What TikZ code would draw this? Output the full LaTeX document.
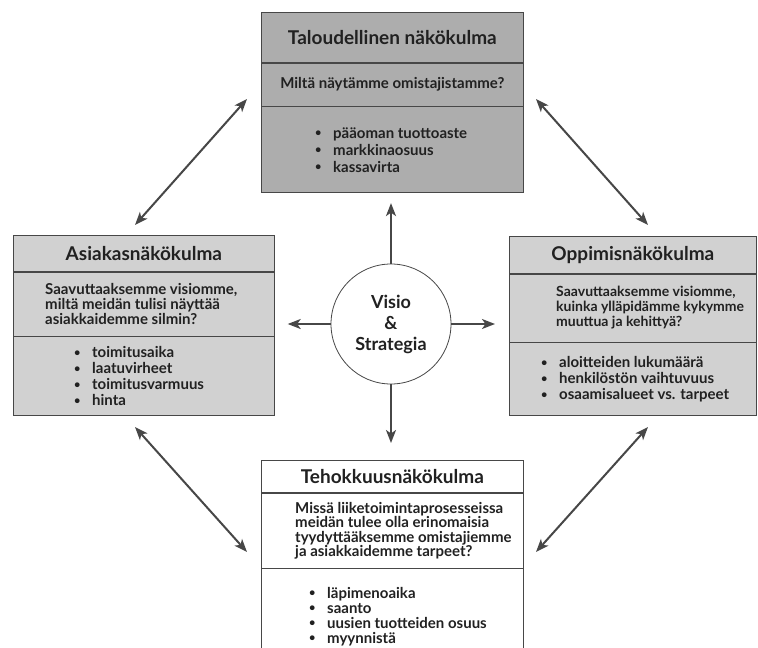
\documentclass[tikz,border=0pt]{standalone}
\usepackage{fontspec}
\setmainfont{Lato}
\usetikzlibrary{positioning,arrows.meta}

\definecolor{viiva}{gray}{0.28}
\definecolor{tumma}{gray}{0.68}
\definecolor{vaalea}{gray}{0.82}
\definecolor{teksti}{gray}{0.13}
\newcommand{\kohta}[1]{\makebox[18pt][l]{\raisebox{0.2ex}{\fontsize{11}{11}\selectfont\textbullet}}#1}

\tikzset{
  osa/.style={draw=viiva, line width=0.7pt, inner sep=0pt, text=teksti, font=\fontsize{15}{15}\selectfont\bfseries},
  otsikko/.style={osa, font=\fontsize{19}{21}\selectfont\bfseries},
  sisalto/.style={inner sep=0pt, align=left, text=teksti, font=\fontsize{15}{15}\selectfont\bfseries},
  keskus/.style={circle, draw=viiva, line width=0.8pt, fill=white, minimum size=120pt, inner sep=0pt, align=center, text=teksti, font=\fontsize{18}{21}\selectfont\bfseries},
  nuoli/.style={->, >={Stealth[length=13pt,width=10pt,inset=3.5pt]}, line width=2pt, draw=viiva},
  kaksinuoli/.style={nuoli, <->}
}

\begin{document}
\begin{tikzpicture}[x=1pt, y=-1pt]
\useasboundingbox (0,0) rectangle (758,648);
\clip (0,0) rectangle (758,648);

% Taloudellinen
\node[otsikko, fill=tumma, anchor=north west, minimum width=262pt, minimum height=50pt] (tot) at (261,12) {Taloudellinen näkökulma};
\node[osa, fill=tumma, below=0pt of tot, minimum width=262pt, minimum height=43pt] (tkys) {Miltä näytämme omistajistamme?};
\node[osa, fill=tumma, below=0pt of tkys, minimum width=262pt, minimum height=86pt] (tmit) {};
\node[sisalto, anchor=west, font=\fontsize{15}{17}\selectfont\bfseries] (tlista) at ([xshift=54pt]tmit.west) {\kohta{pääoman tuottoaste}\\ \kohta{markkinaosuus}\\ \kohta{kassavirta}};

% Asiakas
\node[otsikko, fill=vaalea, anchor=north west, minimum width=261pt, minimum height=36pt] (aot) at (13,235) {Asiakasnäkökulma};
\node[osa, fill=vaalea, below=0pt of aot, minimum width=261pt, minimum height=64pt] (akys) {};
\node[sisalto, anchor=west] (akysteksti) at ([xshift=32pt]akys.west) {Saavuttaaksemme visiomme,\\ miltä meidän tulisi näyttää\\ asiakkaidemme silmin?};
\node[osa, fill=vaalea, below=0pt of akys, minimum width=261pt, minimum height=79pt] (amit) {};
\node[sisalto, anchor=west, font=\fontsize{15}{16}\selectfont\bfseries] (alista) at ([xshift=61pt]amit.west) {\kohta{toimitusaika}\\ \kohta{laatuvirheet}\\ \kohta{toimitusvarmuus}\\ \kohta{hinta}};

% Oppiminen
\node[otsikko, fill=vaalea, anchor=north west, minimum width=247pt, minimum height=37pt] (oot) at (509,236) {Oppimisnäkökulma};
\node[osa, fill=vaalea, below=0pt of oot, minimum width=247pt, minimum height=68pt] (okys) {};
\node[sisalto, anchor=west, font=\fontsize{14}{15}\selectfont\bfseries] (okysteksti) at ([xshift=47pt]okys.west) {Saavuttaaksemme visiomme,\\ kuinka ylläpidämme kykymme\\ muuttua ja kehittyä?};
\node[osa, fill=vaalea, below=0pt of okys, minimum width=247pt, minimum height=73pt] (omit) {};
\node[sisalto, anchor=west, font=\fontsize{15}{16}\selectfont\bfseries] (olista) at ([xshift=32pt]omit.west) {\kohta{aloitteiden lukumäärä}\\ \kohta{henkilöstön vaihtuvuus}\\ \kohta{osaamisalueet vs. tarpeet}};

% Tehokkuus
\node[otsikko, fill=white, anchor=north west, minimum width=262pt, minimum height=32pt] (hot) at (261,460) {Tehokkuusnäkökulma};
\node[osa, fill=white, below=0pt of hot, minimum width=262pt, minimum height=75pt] (hkys) {};
\node[sisalto, anchor=west, font=\fontsize{15}{14.5}\selectfont\bfseries] (hkysteksti) at ([xshift=34pt]hkys.west) {Missä liiketoimintaprosesseissa\\ meidän tulee olla erinomaisia\\ tyydyttääksemme omistajiemme\\ ja asiakkaidemme tarpeet?};
\node[osa, fill=white, below=0pt of hkys, minimum width=262pt, minimum height=95pt] (hmit) {};
\node[sisalto, anchor=west] (hlista) at ([xshift=48pt]hmit.west) {\kohta{läpimenoaika}\\ \kohta{saanto}\\ \kohta{uusien tuotteiden osuus}\\ \kohta{}myynnistä};

% Visio
\node[keskus] (visio) at (391,324) {Visio\\ \&\\ Strategia};
\draw[nuoli, shorten >=10pt] (visio.north) -- (visio.north |- tmit.south);
\draw[nuoli, shorten >=13pt] (visio.west) -- (visio.west -| akys.east);
\draw[nuoli, shorten >=14pt] (visio.east) -- (visio.east -| okys.west);
\draw[nuoli, shorten >=17pt] (visio.south) -- (visio.south |- hot.north);

% vinot nuolet
\coordinate (k1) at (135,225);
\coordinate (k2) at (247,99);
\coordinate (k3) at (536,99);
\coordinate (k4) at (648,225);
\coordinate (k5) at (135,427);
\coordinate (k6) at (247,552);
\coordinate (k7) at (648,427);
\coordinate (k8) at (536,552);
\draw[kaksinuoli] (k1) -- (k2);
\draw[kaksinuoli] (k3) -- (k4);
\draw[kaksinuoli] (k5) -- (k6);
\draw[kaksinuoli] (k7) -- (k8);

\end{tikzpicture}
\end{document}
